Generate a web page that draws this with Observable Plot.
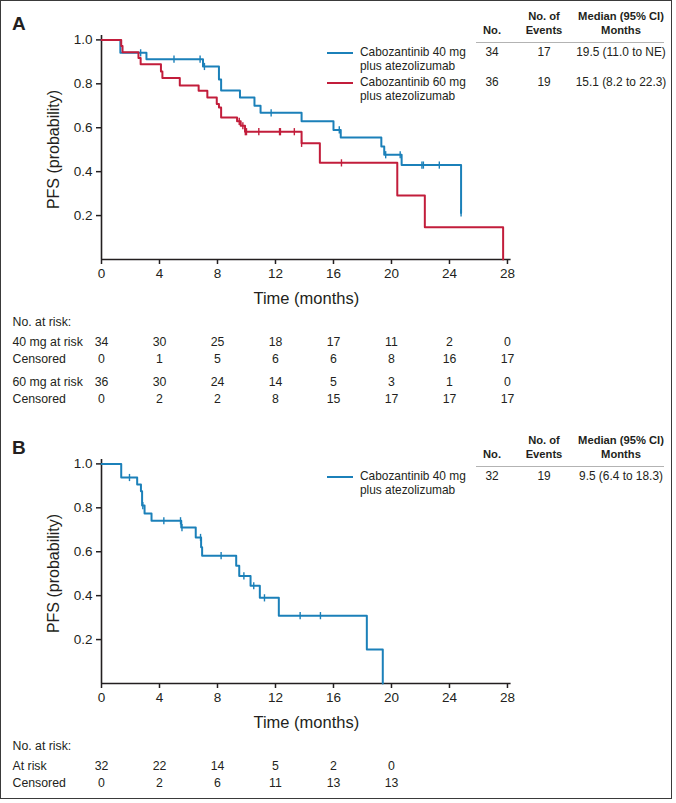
<!DOCTYPE html>
<html>
<head>
<meta charset="utf-8">
<script src="https://cdn.jsdelivr.net/npm/d3@7"></script>
<script src="https://cdn.jsdelivr.net/npm/@observablehq/plot@0.6"></script>
<style>
  body { margin: 0; background: #fff; }
  #fig { position: relative; width: 676px; height: 803px; overflow: hidden;
         font-family: "Liberation Sans", Arial, Helvetica, sans-serif; color: #231f20; }
  #border { position: absolute; left: 0; top: 0; width: 670px; height: 797px; border: 1.5px solid #3a3a3a; }
  .panel { position: absolute; left: 0; width: 676px; height: 420px; }
  .panel svg { position: absolute; left: 0; top: 0; overflow: visible; }
  .plabel { position: absolute; left: 12px; font-weight: bold; font-size: 19px; line-height: 1; }
  .c { position: absolute; transform: translate(-50%, -50%); white-space: nowrap; font-size: 11.9px; line-height: 1; }
  .l { position: absolute; transform: translate(0, -50%); white-space: nowrap; font-size: 11.9px; line-height: 1; }
  .h { font-weight: bold; font-size: 11.2px; text-align: center; }
  .rule { position: absolute; height: 0; border-top: 1.5px solid #b3b3b3; }
  .sw { position: absolute; height: 0; width: 26px; border-top: 2px solid; transform: translate(0, -1px); }
</style>
</head>
<body>
<div id="fig"><div id="border"></div></div>
<script>
// ---------- data ----------
const xTicks = [0, 4, 8, 12, 16, 20, 24, 28];
const yTicks = [0.2, 0.4, 0.6, 0.8, 1.0];

// Panel A, cabozantinib 40 mg: event times and survival after each step
const a40Time = [0, 1.3, 3.1, 7.0, 8.1, 8.25, 9.55, 10.55, 10.97, 13.8, 16.0, 16.5, 19.3, 19.5, 20.7, 24.8];
const a40Surv = [1, 0.941, 0.912, 0.879, 0.82, 0.77, 0.738, 0.70, 0.668, 0.629, 0.59, 0.556, 0.515, 0.477, 0.43, 0.212];
const a40Censor = [2.7, 5.0, 6.8, 7.1, 11.7, 16.4, 19.6, 20.6, 22.1, 22.2, 23.3, 24.8];

// Panel A, cabozantinib 60 mg
const a60Time = [0, 1.36, 1.45, 2.55, 2.7, 4.1, 4.2, 5.4, 6.7, 7.3, 7.95, 8.1, 8.25, 9.35, 9.6, 9.9, 13.8, 15.06, 20.4, 22.3, 27.7];
const a60Surv = [1, 0.972, 0.944, 0.917, 0.889, 0.856, 0.826, 0.792, 0.768, 0.738, 0.708, 0.692, 0.647, 0.629, 0.609, 0.582, 0.529, 0.44, 0.292, 0.147, 0];
const a60Censor = [9.5, 9.75, 9.92, 10.0, 10.85, 12.28, 12.34, 13.3, 13.8, 16.55];

// Panel B, cabozantinib 40 mg
const b40Time = [0, 1.36, 2.46, 2.72, 2.8, 2.97, 3.45, 5.5, 6.5, 6.87, 6.94, 9.29, 9.5, 10.28, 10.92, 12.23, 18.3, 19.4];
const b40Surv = [1, 0.938, 0.906, 0.875, 0.81, 0.774, 0.741, 0.71, 0.665, 0.62, 0.582, 0.536, 0.49, 0.445, 0.39, 0.309, 0.155, 0];
const b40Censor = [1.93, 2.85, 4.3, 5.45, 5.55, 6.83, 8.25, 9.82, 10.5, 11.24, 13.7, 15.1];

// Numbers at risk
const riskMonthsA = [0, 4, 8, 12, 16, 20, 24, 28];
const a40AtRisk = [34, 30, 25, 18, 17, 11, 2, 0];
const a40Censored = [0, 1, 5, 6, 6, 8, 16, 17];
const a60AtRisk = [36, 30, 24, 14, 5, 3, 1, 0];
const a60Censored = [0, 2, 2, 8, 15, 17, 17, 17];
const riskMonthsB = [0, 4, 8, 12, 16, 20];
const b40AtRisk = [32, 22, 14, 5, 2, 0];
const b40Censored = [0, 2, 6, 11, 13, 13];

// Legend / summary table
const legendHeader = [["No.", ""], ["No. of", "Events"], ["Median (95% CI)", "Months"]];
const legendA = [
  {line1: "Cabozantinib 40 mg", line2: "plus atezolizumab", n: "34", events: "17", median: "19.5 (11.0 to NE)", color: "#1b80b9"},
  {line1: "Cabozantinib 60 mg", line2: "plus atezolizumab", n: "36", events: "19", median: "15.1 (8.2 to 22.3)", color: "#c21d3b"}
];
const legendB = [
  {line1: "Cabozantinib 40 mg", line2: "plus atezolizumab", n: "32", events: "19", median: "9.5 (6.4 to 18.3)", color: "#1b80b9"}
];
const blue = "#1b80b9", red = "#c21d3b";

// ---------- helpers ----------
const FONT = '"Liberation Sans", Arial, Helvetica, sans-serif';
const INK = "#231f20";
function steps(times, surv, group) { return times.map((t, i) => ({t, s: surv[i], group})); }
function survAt(times, surv, t) { let v = surv[0]; for (let i = 0; i < times.length; i++) if (times[i] <= t) v = surv[i]; return v; }
function censors(times, surv, cens, group) { return cens.map(t => ({t, s: survAt(times, surv, t), group})); }
const tickSymbol = {draw(ctx, size) { const h = Math.sqrt(size / Math.PI); ctx.moveTo(0, -h); ctx.lineTo(0, h); }};

function riskRow(months, values, dy) {
  return Plot.text(months.map((m, i) => ({m, v: values[i]})), {x: "m", text: d => String(d.v), frameAnchor: "bottom", dy, fontSize: 12.3, fill: INK});
}
function rowLabel(label, dy) {
  return Plot.text([label], {frameAnchor: "bottom-left", dx: -89, dy, textAnchor: "start", fontSize: 12.3, fill: INK});
}

function makePlot(curves, marksExtra) {
  return Plot.plot({
    width: 676, height: 420,
    marginLeft: 101, marginRight: 165.4, marginTop: 35, marginBottom: 161,
    x: {domain: [0, 28.25], axis: null},
    y: {domain: [0, 1.02], axis: null},
    style: {fontFamily: FONT, color: INK, background: "transparent", overflow: "visible"},
    marks: [
      Plot.axisY({ticks: yTicks, tickFormat: d3.format(".1f"), tickSize: 5, tickPadding: 4, fontSize: 13.5, strokeWidth: 1.5, label: null, color: INK}),
      Plot.axisX({ticks: xTicks, tickSize: 5, tickPadding: 4, fontSize: 13.5, strokeWidth: 1.5, label: null, color: INK}),
      Plot.ruleX([0], {stroke: INK, strokeWidth: 1.6}),
      Plot.ruleY([0], {stroke: INK, strokeWidth: 1.6}),
      ...curves.map(c => Plot.line(c.steps, {x: "t", y: "s", stroke: c.color, strokeWidth: 2, curve: "step-after"})),
      ...curves.map(c => Plot.dot(c.cens, {x: "t", y: "s", stroke: c.color, fill: "none", strokeWidth: 1.4, r: 3.6, symbol: tickSymbol})),
      Plot.text(["PFS (probability)"], {frameAnchor: "left", textAnchor: "middle", rotate: -90, dx: -48, dy: 2, fontSize: 16, fill: INK}),
      Plot.text(["Time (months)"], {frameAnchor: "bottom", textAnchor: "middle", dy: 44, fontSize: 16.5, fill: INK}),
      rowLabel("No. at risk:", 66),
      ...marksExtra
    ]
  });
}

function addPanel(top, letter, plot, legend) {
  const fig = document.getElementById("fig");
  const p = document.createElement("div");
  p.className = "panel"; p.style.top = top + "px";
  p.appendChild(plot);
  const lab = document.createElement("div");
  lab.className = "plabel"; lab.textContent = letter; lab.style.top = "14px";
  p.appendChild(lab);
  const cx = [492, 544, 621];
  legendHeader.forEach((h, i) => {
    const d = document.createElement("div");
    d.className = "c h";
    d.style.left = cx[i] + "px";
    if (h[1] === "") { d.style.top = "31px"; d.textContent = h[0]; }
    else { d.style.top = "23px"; d.innerHTML = h[0] + "<br>" + h[1]; d.style.lineHeight = "14px"; }
    p.appendChild(d);
  });
  const r = document.createElement("div");
  r.className = "rule"; r.style.left = "476px"; r.style.width = "188px"; r.style.top = "41.5px";
  p.appendChild(r);
  legend.forEach((row, i) => {
    const y = 53 + i * 30;
    const sw = document.createElement("div");
    sw.className = "sw"; sw.style.left = "327px"; sw.style.top = y + "px"; sw.style.borderColor = row.color;
    p.appendChild(sw);
    [[row.line1, y], [row.line2, y + 14]].forEach(([t, yy]) => {
      const d = document.createElement("div"); d.className = "l"; d.style.left = "360px"; d.style.top = yy + "px"; d.textContent = t; p.appendChild(d);
    });
    [row.n, row.events, row.median].forEach((t, j) => {
      const d = document.createElement("div"); d.className = "c"; d.style.left = cx[j] + "px"; d.style.top = y + "px"; d.textContent = t; p.appendChild(d);
    });
  });
  fig.appendChild(p);
}

// ---------- panel A ----------
const plotA = makePlot([
  {steps: steps(a40Time, a40Surv, "40"), cens: censors(a40Time, a40Surv, a40Censor, "40"), color: blue},
  {steps: steps(a60Time, a60Surv, "60"), cens: censors(a60Time, a60Surv, a60Censor, "60"), color: red}
], [
  rowLabel("40 mg at risk", 86), riskRow(riskMonthsA, a40AtRisk, 86),
  rowLabel("Censored", 103), riskRow(riskMonthsA, a40Censored, 103),
  rowLabel("60 mg at risk", 126), riskRow(riskMonthsA, a60AtRisk, 126),
  rowLabel("Censored", 143), riskRow(riskMonthsA, a60Censored, 143)
]);
addPanel(0, "A", plotA, legendA);

// ---------- panel B ----------
const plotB = makePlot([
  {steps: steps(b40Time, b40Surv, "40"), cens: censors(b40Time, b40Surv, b40Censor, "40"), color: blue}
], [
  rowLabel("At risk", 86), riskRow(riskMonthsB, b40AtRisk, 86),
  rowLabel("Censored", 103), riskRow(riskMonthsB, b40Censored, 103)
]);
addPanel(424, "B", plotB, legendB);
</script>
</body>
</html>
